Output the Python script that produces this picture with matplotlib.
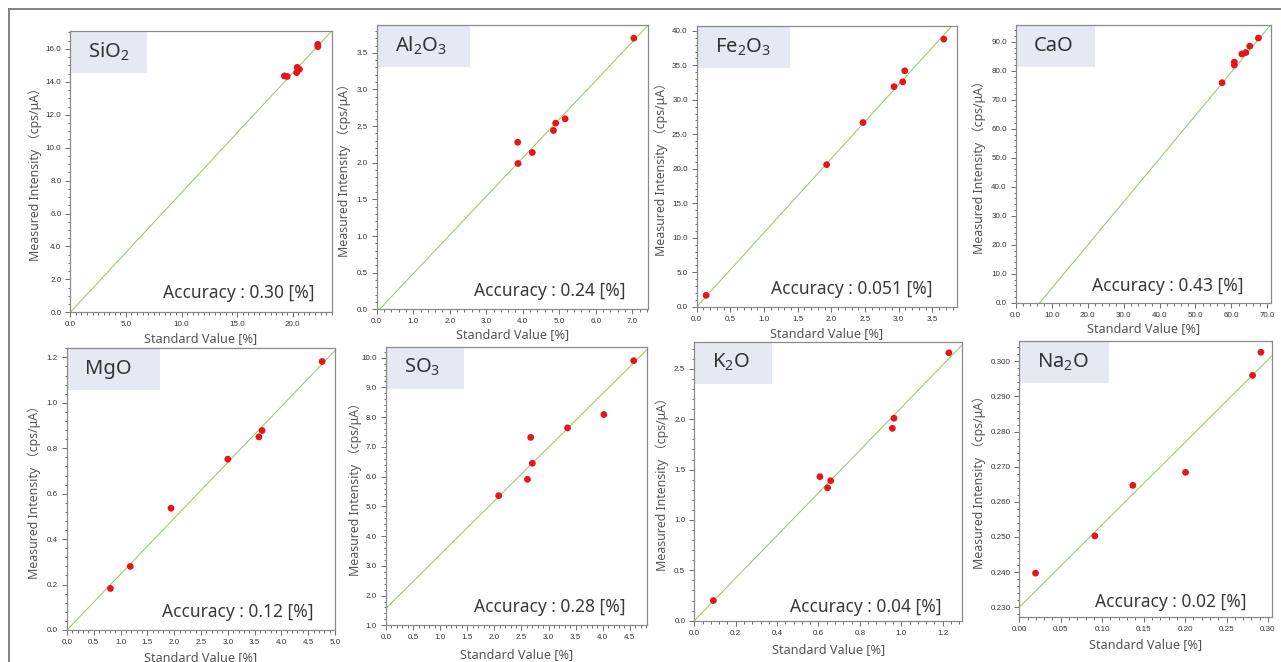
import matplotlib
matplotlib.use('Agg')
import matplotlib.pyplot as plt
from matplotlib.ticker import MultipleLocator, AutoMinorLocator, FormatStrFormatter
from matplotlib.lines import Line2D

plt.rcParams['mathtext.fontset'] = 'custom'
plt.rcParams['mathtext.rm'] = 'Noto Sans'
plt.rcParams['mathtext.it'] = 'Noto Sans'
plt.rcParams['mathtext.default'] = 'rm'

# ---------------- data ----------------
oxides = ['SiO$_2$', 'Al$_2$O$_3$', 'Fe$_2$O$_3$', 'CaO', 'MgO', 'SO$_3$', 'K$_2$O', 'Na$_2$O']
accuracy = ['0.30', '0.24', '0.051', '0.43', '0.12', '0.28', '0.04', '0.02']

sio2_std = [19.25, 19.5, 20.35, 20.4, 20.6, 22.25, 22.25]
sio2_int = [14.36, 14.33, 14.56, 14.88, 14.76, 16.14, 16.28]

al2o3_std = [3.86, 3.87, 4.26, 4.84, 4.90, 5.16, 7.04]
al2o3_int = [2.28, 1.99, 2.14, 2.44, 2.54, 2.60, 3.70]

fe2o3_std = [0.14, 1.93, 2.47, 2.93, 3.06, 3.09, 3.67]
fe2o3_int = [1.65, 20.6, 26.7, 31.9, 32.6, 34.2, 38.8]

cao_std = [57.4, 60.8, 60.8, 62.9, 64.0, 65.1, 67.5]
cao_int = [75.9, 83.0, 82.0, 85.8, 86.3, 88.5, 91.3]

mgo_std = [0.81, 1.18, 1.94, 3.00, 3.58, 3.64, 4.76]
mgo_int = [0.183, 0.28, 0.536, 0.752, 0.85, 0.878, 1.182]

so3_std = [2.08, 2.61, 2.67, 2.70, 3.35, 4.02, 4.57]
so3_int = [5.36, 5.91, 7.32, 6.45, 7.64, 8.09, 9.90]

k2o_std = [0.092, 0.607, 0.644, 0.659, 0.957, 0.965, 1.23]
k2o_int = [0.20, 1.43, 1.32, 1.39, 1.91, 2.01, 2.66]

na2o_std = [0.0196, 0.0911, 0.137, 0.2006, 0.2814, 0.2915]
na2o_int = [0.2397, 0.2503, 0.2647, 0.2684, 0.2960, 0.3026]

fit_intercept = [0.0, -0.04, 0.0, -10.0, 0.0, 1.57, 0.0, 0.230]
fit_slope = [0.7272, 0.527, 10.74, 1.493, 0.246, 1.807, 2.115, 0.2348]

std_values = [sio2_std, al2o3_std, fe2o3_std, cao_std, mgo_std, so3_std, k2o_std, na2o_std]
intensities = [sio2_int, al2o3_int, fe2o3_int, cao_int, mgo_int, so3_int, k2o_int, na2o_int]

x_limits = [(0, 23.5), (0, 7.42), (0, 3.87), (0, 71.0), (0, 5.0), (0, 4.81), (0, 1.295), (0, 0.3045)]
y_limits = [(0, 17.09), (0, 3.88), (0, 40.7), (0, 95.8), (0, 1.24), (1.0, 10.37), (0, 2.77), (0.2273, 0.3058)]
x_major = [5.0, 1.0, 0.5, 10.0, 0.5, 0.5, 0.2, 0.05]
y_major = [2.0, 0.5, 5.0, 10.0, 0.2, 1.0, 0.5, 0.01]
x_fmt = ['%.1f'] * 7 + ['%.2f']
y_fmt = ['%.1f'] * 7 + ['%.3f']

# ---------------- layout (pixels) ----------------
W, H = 1281, 662
# left, right, top, bottom
boxes_px = [
    (70.3, 331.7, 31, 312.3),
    (376.7, 647.7, 25, 309.3),
    (696.7, 957.3, 26, 306.7),
    (1015.7, 1271, 25, 302.7),
    (67, 335, 348.3, 630),
    (386, 646.7, 346.7, 625.3),
    (694.3, 962.3, 341.7, 620.7),
    (1019.3, 1271.7, 341, 616.7),
]
label_box_w = [76, 92, 92, 78, 92, 77, 77, 89]
acc_offset = [(17, 14), (22, 13), (25, 13), (27, 12), (21, 13), (21, 13.5), (21, 9), (25, 10)]
ylab_off = [35, 32, 35, 36, 33, 31, 32, 40]
xlab_off = [26, 25, 27, 26, 28, 29.5, 28.5, 28]
x_minor = [10, 5, 5, 5, 5, 5, 5, 5]
y_minor = [4, 5, 5, 5, 5, 5, 5, 5]

TEXT_FONT = ['Noto Sans', 'Noto Sans CJK JP', 'DejaVu Sans']
TICK_FONT = ['Liberation Sans Narrow', 'Liberation Sans', 'DejaVu Sans']

fig = plt.figure(figsize=(W / 100, H / 100), dpi=100)
fig.patch.set_facecolor('white')

# outer frame (top and left lines)
fig.add_artist(Line2D([9 / W, 1.0], [1 - 9 / H, 1 - 9 / H], color='#7a7a7a', lw=1.3,
                      transform=fig.transFigure))
fig.add_artist(Line2D([9 / W, 9 / W], [0, 1 - 9 / H], color='#7a7a7a', lw=1.3,
                      transform=fig.transFigure))

for i in range(8):
    L, R, T, B = boxes_px[i]
    ax = fig.add_axes([L / W, 1 - B / H, (R - L) / W, (B - T) / H])
    ax.set_xlim(*x_limits[i])
    ax.set_ylim(*y_limits[i])

    ax.axline((0, fit_intercept[i]), slope=fit_slope[i], color='#93cc62', lw=0.75, zorder=2)
    ax.scatter(std_values[i], intensities[i], s=24, color='#e8141b', edgecolors='none', zorder=3)

    ax.xaxis.set_major_locator(MultipleLocator(x_major[i]))
    ax.yaxis.set_major_locator(MultipleLocator(y_major[i]))
    ax.xaxis.set_minor_locator(AutoMinorLocator(x_minor[i]))
    ax.yaxis.set_minor_locator(AutoMinorLocator(y_minor[i]))
    ax.xaxis.set_major_formatter(FormatStrFormatter(x_fmt[i]))
    ax.yaxis.set_major_formatter(FormatStrFormatter(y_fmt[i]))
    ax.tick_params(which='both', direction='out', color='#555555', width=0.6,
                   labelsize=5.8, labelcolor='#333333', pad=3)
    ax.tick_params(which='major', length=3.5)
    ax.tick_params(which='minor', length=1.8)
    for lab in ax.get_xticklabels() + ax.get_yticklabels():
        lab.set_family(TICK_FONT)
    for sp in ax.spines.values():
        sp.set_color('#8a8a8a')
        sp.set_linewidth(0.9)

    # title box
    bw = label_box_w[i] / (R - L)
    bh = 42 / (B - T)
    ax.add_patch(plt.Rectangle((0.004, 1 - bh), bw, bh, transform=ax.transAxes,
                               facecolor='#e6e8f2', edgecolor='none', zorder=1))
    ax.annotate(oxides[i], xy=(0, 1 - bh / 2), xycoords='axes fraction',
                xytext=(18, 0), textcoords='offset pixels', ha='left', va='center',
                fontsize=14.5, color='#333333', family=TEXT_FONT, zorder=4)

    # accuracy
    dx, dy = acc_offset[i]
    ax.annotate(f'Accuracy : {accuracy[i]} [%]', xy=(1, 0), xycoords='axes fraction',
                xytext=(-dx, dy), textcoords='offset pixels', ha='right', va='baseline',
                fontsize=12.5, color='#3a3a3a', family=TEXT_FONT, zorder=4)

    # axis labels
    ax.annotate('Measured Intensity （cps/μA）', xy=(0, 0.5), xycoords='axes fraction',
                xytext=(-ylab_off[i], 0), textcoords='offset pixels', rotation=90,
                ha='center', va='center', fontsize=8.9, color='#555555', family=TEXT_FONT,
                annotation_clip=False)
    ax.annotate('Standard Value [%]', xy=(0.5, 0), xycoords='axes fraction',
                xytext=(0, -xlab_off[i]), textcoords='offset pixels',
                ha='center', va='center', fontsize=9.1, color='#555555', family=TEXT_FONT,
                annotation_clip=False)

fig.savefig('out.png', dpi=100, facecolor='white')
